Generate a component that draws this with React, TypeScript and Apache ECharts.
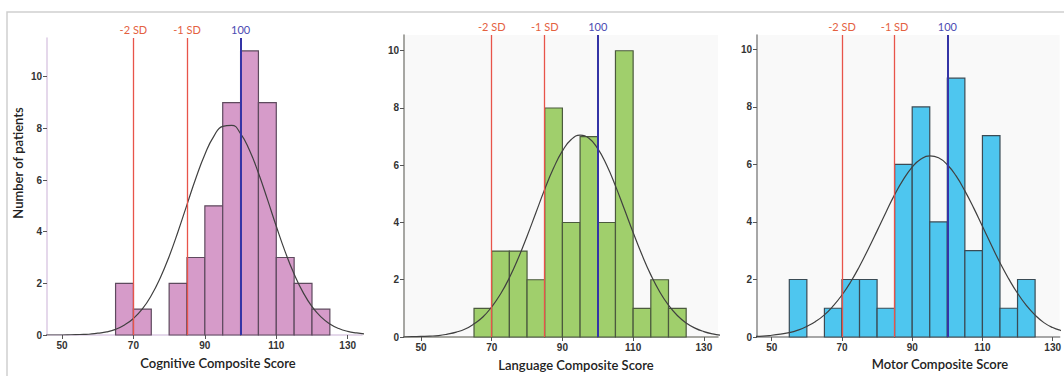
import React, { useEffect, useRef } from 'react';
import * as echarts from 'echarts';

// ---------- data ----------
const BIN_WIDTH = 5;

const cognitiveBinStarts = [65, 70, 75, 80, 85, 90, 95, 100, 105, 110, 115, 120];
const cognitiveCounts = [2, 1, 0, 2, 3, 5, 9, 11, 9, 3, 2, 1];

const languageBinStarts = [65, 70, 75, 80, 85, 90, 95, 100, 105, 110, 115, 120];
const languageCounts = [1, 3, 3, 2, 8, 4, 7, 4, 10, 1, 2, 1];

const motorBinStarts = [55, 60, 65, 70, 75, 80, 85, 90, 95, 100, 105, 110, 115, 120];
const motorCounts = [2, 0, 1, 2, 2, 1, 6, 8, 4, 9, 3, 7, 1, 2];

const curveX = [
  45, 47.5, 50, 52.5, 55, 57.5, 60, 62.5, 65, 67.5,
  70, 72.5, 75, 77.5, 80, 82.5, 85, 87.5, 90, 92.5,
  95, 97.5, 100, 102.5, 105, 107.5, 110, 112.5, 115, 117.5,
  120, 122.5, 125, 127.5, 130, 132.5, 135,
];
const cognitiveCurve = [
  0.0, 0.0, 0.0, 0.01, 0.02, 0.03, 0.07, 0.12, 0.22, 0.39,
  0.64, 1.01, 1.53, 2.21, 3.04, 4.01, 5.05, 6.08, 6.99, 7.69,
  8.08, 8.12, 7.8, 7.15, 6.27, 5.26, 4.21, 3.22, 2.36, 1.65,
  1.1, 0.7, 0.43, 0.25, 0.14, 0.08, 0.04,
];
const languageCurve = [
  0.0, 0.01, 0.02, 0.03, 0.05, 0.1, 0.17, 0.28, 0.46, 0.7,
  1.05, 1.5, 2.07, 2.75, 3.52, 4.34, 5.16, 5.9, 6.5, 6.9,
  7.05, 6.94, 6.58, 6.01, 5.28, 4.47, 3.65, 2.87, 2.17, 1.58,
  1.11, 0.75, 0.49, 0.31, 0.19, 0.11, 0.06,
];
const motorCurve = [
  0.02, 0.03, 0.06, 0.1, 0.15, 0.24, 0.37, 0.54, 0.77, 1.08,
  1.46, 1.92, 2.46, 3.06, 3.69, 4.33, 4.95, 5.48, 5.91, 6.19,
  6.3, 6.23, 5.99, 5.6, 5.08, 4.49, 3.85, 3.21, 2.58, 2.02,
  1.52, 1.1, 0.76, 0.5, 0.33, 0.22, 0.14,
];

const refValues = [70, 85, 100];
const refLabels = ['-2 SD', '-1 SD', '100'];

const xTickValues = [50, 70, 90, 110, 130];
const yTickValues = [0, 2, 4, 6, 8, 10];

const axisTitles = ['Cognitive Composite Score', 'Language Composite Score', 'Motor Composite Score'];
const yAxisTitle = 'Number of patients';

// ---------- layout / styles ----------
const panels = [
  {
    binStarts: cognitiveBinStarts, counts: cognitiveCounts, curve: cognitiveCurve,
    grid: { left: 47, top: 38, width: 315, height: 297 },
    xMin: 45.8, xMax: 134, yMax: 11.5,
    fill: '#d69bc9', stroke: '#5e4a5e', axisColor: '#dccbe4', bg: 'transparent',
    titleX: 218, titleY: 363,
  },
  {
    binStarts: languageBinStarts, counts: languageCounts, curve: languageCurve,
    grid: { left: 404, top: 35, width: 314, height: 302 },
    xMin: 45.2, xMax: 134, yMax: 10.55,
    fill: '#a0cf6c', stroke: '#4b5a3e', axisColor: '#8a8a84', bg: '#f9f9f9',
    titleX: 576, titleY: 365,
  },
  {
    binStarts: motorBinStarts, counts: motorCounts, curve: motorCurve,
    grid: { left: 757, top: 35, width: 307, height: 302 },
    xMin: 45.8, xMax: 132, yMax: 10.5,
    fill: '#4ec6ef', stroke: '#3a4b55', axisColor: '#8a8a8a', bg: '#f9f9f9',
    titleX: 940, titleY: 364,
  },
];

const RED_LINE = '#e8544a';
const RED_TEXT = '#e4613f';
const BLUE_LINE = '#3434a6';
const BLUE_TEXT = '#4b4bb2';

export default function App() {
  const ref = useRef<HTMLDivElement>(null);

  useEffect(() => {
    if (!ref.current) return;
    const chart = echarts.init(ref.current, null, { renderer: 'svg' });

    const grids = panels.map((p) => ({
      ...p.grid,
      show: true,
      backgroundColor: p.bg,
      borderWidth: 0,
      containLabel: false,
    }));

    const labelStyle = {
      color: '#333',
      fontSize: 10,
      fontWeight: 'bold',
      fontFamily: 'Liberation Sans, Arial, sans-serif',
    };

    const xAxes = panels.map((p, i) => ({
      type: 'value',
      gridIndex: i,
      min: p.xMin,
      max: p.xMax,
      splitLine: { show: false },
      axisLine: { show: true, lineStyle: { color: p.axisColor, width: 1.5 } },
      axisTick: { show: true, length: 4, customValues: xTickValues, lineStyle: { color: '#555' } },
      axisLabel: { ...labelStyle, customValues: xTickValues, margin: 5 },
    }));

    const yAxes = panels.map((p, i) => ({
      type: 'value',
      gridIndex: i,
      min: 0,
      max: p.yMax,
      splitLine: { show: false },
      axisLine: { show: true, lineStyle: { color: p.axisColor, width: 1.5 } },
      axisTick: { show: true, length: 4, customValues: yTickValues, lineStyle: { color: '#555' } },
      axisLabel: { ...labelStyle, customValues: yTickValues, margin: 5 },
    }));

    const series: any[] = [];
    panels.forEach((p, i) => {
      const data = p.binStarts
        .map((s, k) => [s, s + BIN_WIDTH, p.counts[k]])
        .filter((d) => d[2] > 0);
      series.push({
        type: 'custom',
        xAxisIndex: i,
        yAxisIndex: i,
        data,
        encode: { x: [0, 1], y: 2 },
        z: 2,
        renderItem: (_params: any, api: any) => {
          const start = api.value(0);
          const end = api.value(1);
          const count = api.value(2);
          const tl = api.coord([start, count]);
          const br = api.coord([end, 0]);
          return {
            type: 'rect',
            shape: { x: tl[0], y: tl[1], width: br[0] - tl[0], height: br[1] - tl[1] },
            style: { fill: p.fill, stroke: p.stroke, lineWidth: 1.2 },
          };
        },
      });
      series.push({
        type: 'line',
        xAxisIndex: i,
        yAxisIndex: i,
        data: curveX.map((x, k) => [x, p.curve[k]]),
        smooth: true,
        showSymbol: false,
        symbol: 'none',
        z: 4,
        lineStyle: { color: '#404040', width: 1.2 },
        markLine: {
          silent: true,
          symbol: ['none', 'none'],
          animation: false,
          data: refValues.map((v, k) => ({
            xAxis: v,
            lineStyle: {
              color: k < 2 ? RED_LINE : BLUE_LINE,
              width: k < 2 ? 1.3 : 2,
              type: 'solid',
            },
            label: {
              show: true,
              position: 'end',
              formatter: refLabels[k],
              color: k < 2 ? RED_TEXT : BLUE_TEXT,
              fontSize: 11,
              fontFamily: 'Lato, sans-serif',
              distance: 3,
            },
          })),
        },
      });
    });

    const graphic: any[] = [
      {
        type: 'rect',
        shape: { x: 7, y: 12, width: 1100, height: 400 },
        style: { fill: 'none', stroke: '#cfcfcf', lineWidth: 1.5 },
        silent: true,
        z: -10,
      },
      {
        type: 'text',
        x: 18,
        y: 163,
        rotation: Math.PI / 2,
        style: {
          text: yAxisTitle,
          fill: '#222',
          fontSize: 13,
          fontWeight: 600,
          fontFamily: 'Lato, sans-serif',
          textAlign: 'center',
          textVerticalAlign: 'middle',
        },
      },
      ...panels.map((p, i) => ({
        type: 'text',
        x: p.titleX,
        y: p.titleY,
        style: {
          text: axisTitles[i],
          fill: '#222',
          fontSize: 13,
          fontWeight: 600,
          fontFamily: 'Lato, sans-serif',
          textAlign: 'center',
          textVerticalAlign: 'middle',
        },
      })),
    ];

    chart.setOption({
      animation: false,
      backgroundColor: '#ffffff',
      grid: grids,
      xAxis: xAxes,
      yAxis: yAxes,
      series,
      graphic,
    });

    return () => chart.dispose();
  }, []);

  return (
    <div
      ref={ref}
      style={{ position: 'fixed', left: 0, top: 0, width: 1064, height: 376, background: '#fff' }}
    />
  );
}
